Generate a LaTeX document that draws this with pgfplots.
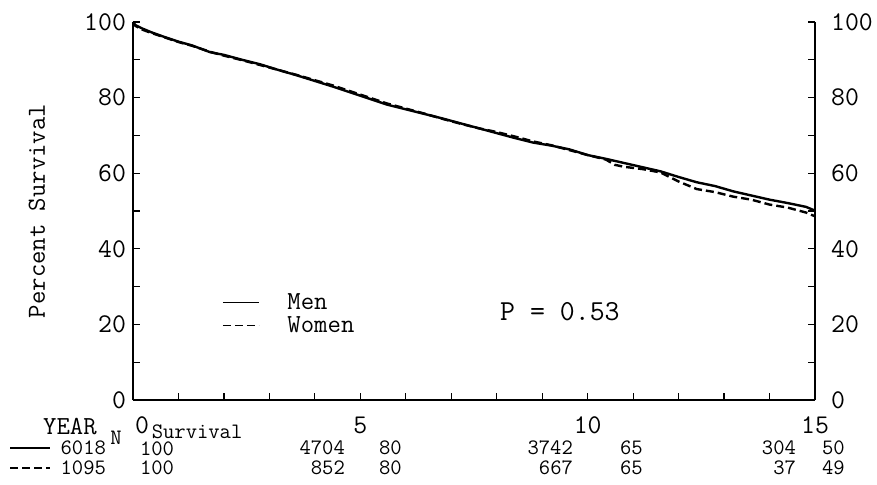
\documentclass[border=0pt]{standalone}
\usepackage{pgfplots}
\pgfplotsset{compat=1.18}
\renewcommand{\familydefault}{\ttdefault}

\newcommand\tickf{\fontsize{13.5}{15}\selectfont}
\newcommand\tabf{\fontsize{11}{13}\selectfont}

\pgfplotsset{
  km/.style={
    width=341pt, height=189pt, scale only axis,
    xmin=0, xmax=15, ymin=0, ymax=100,
    clip=false,
    tick style={black, line width=0.6pt},
    major tick length=3.5pt, minor tick length=3.5pt,
    tick align=inside,
    axis line style={line width=0.7pt},
    /pgf/number format/assume math mode=true,
    ticklabel style={font=\tickf},
    ytick={0,20,...,100}, minor y tick num=1,
  }
}

\begin{document}
\begin{tikzpicture}
\begin{axis}[km,
  axis x line*=bottom, axis y line*=left,
  xtick pos=bottom, ytick pos=left,
  xtick={0,5,10,15}, xticklabels={,5,10,15}, minor x tick num=4,
  xticklabel style={yshift=-5pt},
  ylabel={Percent Survival},
  every axis y label/.style={at={(rel axis cs:0,0.5)}, xshift=-48pt,
    rotate=90, anchor=center, font=\fontsize{13}{15}\selectfont},
  legend style={at={(axis cs:1.95,29.4)}, anchor=north west, draw=none,
    fill=none, font=\fontsize{13}{14}\selectfont, row sep=-2pt, inner sep=0pt},
  legend cell align=left,
  legend image code/.code={\draw[#1, line width=0.7pt] (0pt,0pt) -- (18pt,0pt);},
  /tikz/every odd column/.style={column sep=12pt},
]
% Men
\addplot[black, line width=1.2pt] coordinates {
(0,100) (0.05,99.2) (0.2,98.3) (0.4,97.3) (0.7,96.0) (1.0,94.8) (1.3,93.8)
(1.7,92.0) (2.0,91.3) (2.4,90.0) (2.8,88.8) (3.2,87.3) (3.6,85.9) (4.0,84.4)
(4.4,82.9) (4.8,81.3) (5.2,79.7) (5.6,78.1) (6.0,76.9) (6.4,75.7) (6.8,74.5)
(7.2,73.2) (7.6,71.9) (8.0,70.6) (8.4,69.3) (8.8,68.1) (9.2,67.3) (9.6,66.3)
(10.0,64.8) (10.4,63.8) (10.8,62.7) (11.2,61.6) (11.6,60.5) (12.0,59.0)
(12.4,57.6) (12.8,56.6) (13.2,55.2) (13.6,54.1) (14.0,53.0) (14.4,52.1)
(14.8,51.1) (15.0,50.1)
};
\addlegendentry{Men}
% Women
\addplot[black, line width=1.2pt, dash pattern=on 4pt off 2pt] coordinates {
(0,100) (0.05,99.0) (0.2,98.0) (0.4,97.1) (0.7,95.9) (1.0,94.7) (1.3,93.7)
(1.7,92.1) (2.0,91.1) (2.4,89.9) (2.8,88.6) (3.2,87.3) (3.6,86.0) (4.0,84.6)
(4.4,83.2) (4.8,81.6) (5.2,80.0) (5.6,78.4) (6.0,77.1) (6.4,75.8) (6.8,74.4)
(7.2,73.1) (7.6,71.9) (8.0,70.9) (8.4,69.7) (8.8,68.4) (9.2,67.4) (9.6,66.1)
(10.0,64.8) (10.4,63.6) (10.6,62.2) (10.8,61.7) (11.2,61.1) (11.6,60.2)
(12.0,57.8) (12.4,55.8) (12.8,55.0) (13.2,53.8) (13.6,53.0) (14.0,51.7)
(14.4,50.9) (14.8,49.6) (15.0,48.6)
};
\addlegendentry{Women}

\node[anchor=west, font=\fontsize{14.5}{16}\selectfont] at (axis cs:7.92,23.3) {P = 0.53};

% number at risk table
\node[font=\fontsize{13}{15}\selectfont] at (axis cs:-1.386,-6.9) {YEAR};
\node[font=\tabf] at (axis cs:-0.374,-10.05) {N};
\node[font=\tickf] at (axis cs:0.198,-6.7) {0};
\node[anchor=west, font=\tabf, inner sep=1pt] at (axis cs:0.36,-8.4) {Survival};

\draw[line width=0.7pt] (axis cs:-2.705,-12.7) -- (axis cs:-1.825,-12.7);
\draw[line width=0.7pt, dash pattern=on 4pt off 2pt] (axis cs:-2.705,-18.0) -- (axis cs:-1.825,-18.0);

\node[anchor=east, font=\tabf] at (axis cs:-0.44,-12.7) {6018};
\node[anchor=west, font=\tabf] at (axis cs:0,-12.8) {100};
\node[anchor=east, font=\tabf] at (axis cs:4.816,-12.7) {4704};
\node[anchor=west, font=\tabf] at (axis cs:5.256,-12.7) {80};
\node[anchor=east, font=\tabf] at (axis cs:9.83,-12.7) {3742};
\node[anchor=west, font=\tabf] at (axis cs:10.556,-12.7) {65};
\node[anchor=east, font=\tabf] at (axis cs:14.735,-12.7) {304};
\node[anchor=west, font=\tabf] at (axis cs:15.0,-12.7) {50};

\node[anchor=east, font=\tabf] at (axis cs:-0.44,-18.0) {1095};
\node[anchor=west, font=\tabf] at (axis cs:0,-18.0) {100};
\node[anchor=east, font=\tabf] at (axis cs:4.816,-18.0) {852};
\node[anchor=west, font=\tabf] at (axis cs:5.256,-18.0) {80};
\node[anchor=east, font=\tabf] at (axis cs:9.83,-18.0) {667};
\node[anchor=west, font=\tabf] at (axis cs:10.556,-18.0) {65};
\node[anchor=east, font=\tabf] at (axis cs:14.735,-18.0) {37};
\node[anchor=west, font=\tabf] at (axis cs:15.0,-18.0) {49};

\coordinate (bbA) at (axis cs:-2.925,105.82);
\coordinate (bbB) at (axis cs:16.363,-22.22);
\end{axis}

\begin{axis}[km,
  axis x line=none, axis y line*=right,
  ytick pos=right, yticklabel pos=right,
  yticklabel style={xshift=4.5pt},
]
\end{axis}

\pgfresetboundingbox
\path (bbA) rectangle (bbB);
\end{tikzpicture}
\end{document}
